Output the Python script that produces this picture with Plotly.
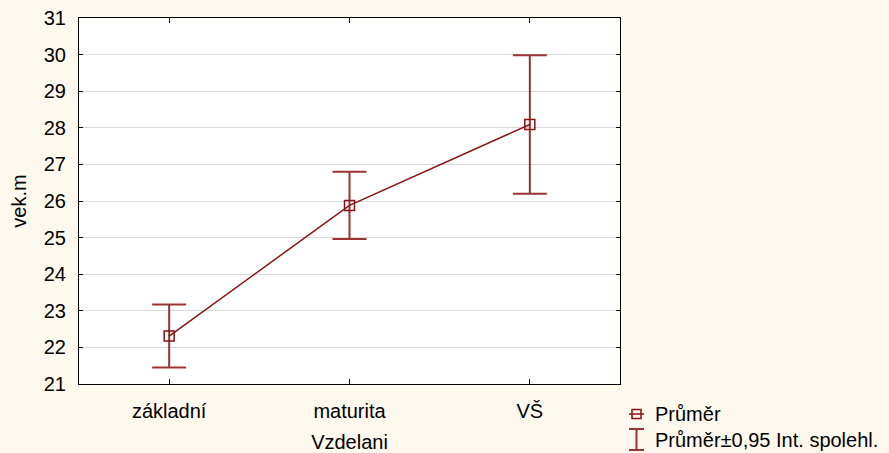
import plotly.graph_objects as go

# Mean age by education level with 0.95 confidence intervals
categories = ["základní", "maturita", "VŠ"]
means = [22.31, 25.88, 28.09]
ci_half = [0.86, 0.92, 1.89]
y_ticks = list(range(21, 32))

LINE_COLOR = "#8B1212"
ERR_COLOR = "#9C3333"
BG = "#FEF9EF"
FONT = "Liberation Sans, Arial, sans-serif"
FSIZE = 20

W, H = 889, 453
L, R, T, B = 79, 269, 18, 69
PW, PH = W - L - R, H - T - B


def px_x(px):
    return (px - L) / PW


def px_y(py):
    return 1 - (py - T) / PH


fig = go.Figure()

fig.add_trace(go.Scatter(
    x=categories, y=means,
    mode="lines+markers",
    line=dict(color=LINE_COLOR, width=1.5),
    marker=dict(symbol="square-open", size=10, color=LINE_COLOR,
                line=dict(width=1.5, color=LINE_COLOR)),
    error_y=dict(type="data", array=ci_half, visible=True,
                 color=ERR_COLOR, thickness=2, width=17),
    showlegend=False,
    name="Průměr",
))

# Legend drawn by hand: mean marker and CI I-beam
shapes = []
lx0, lx1, lxc = 629, 644, 636.5
ly1 = 414
shapes.append(dict(type="line", xref="paper", yref="paper",
                   x0=px_x(lx0), x1=px_x(lx1), y0=px_y(ly1), y1=px_y(ly1),
                   line=dict(color=LINE_COLOR, width=1.5)))
shapes.append(dict(type="rect", xref="paper", yref="paper",
                   x0=px_x(lxc - 4.5), x1=px_x(lxc + 4.5),
                   y0=px_y(ly1 - 4.5), y1=px_y(ly1 + 4.5),
                   line=dict(color=LINE_COLOR, width=1.5)))
ib_top, ib_bot = 429, 450
shapes.append(dict(type="line", xref="paper", yref="paper",
                   x0=px_x(lxc), x1=px_x(lxc), y0=px_y(ib_top), y1=px_y(ib_bot),
                   line=dict(color=ERR_COLOR, width=2)))
for yy in (ib_top, ib_bot):
    shapes.append(dict(type="line", xref="paper", yref="paper",
                       x0=px_x(lx0), x1=px_x(lx1), y0=px_y(yy), y1=px_y(yy),
                       line=dict(color=ERR_COLOR, width=2)))

annotations = [
    dict(text="Průměr", xref="paper", yref="paper", x=px_x(653), y=px_y(414),
         xanchor="left", yanchor="middle", showarrow=False,
         font=dict(family=FONT, size=FSIZE, color="black")),
    dict(text="Průměr±0,95 Int. spolehl.", xref="paper", yref="paper",
         x=px_x(653), y=px_y(440), xanchor="left", yanchor="middle",
         showarrow=False, font=dict(family=FONT, size=FSIZE, color="black")),
]

fig.update_layout(
    width=W, height=H,
    margin=dict(l=L, r=R, t=T, b=B, pad=0),
    paper_bgcolor=BG,
    plot_bgcolor="white",
    font=dict(family=FONT, size=FSIZE, color="black"),
    shapes=shapes,
    annotations=annotations,
    showlegend=False,
)

fig.update_xaxes(
    type="category",
    range=[-0.5, 2.5],
    automargin=False,
    showline=True, linecolor="black", linewidth=1, mirror="ticks",
    ticks="inside", ticklen=5, tickcolor="black",
    showgrid=False, zeroline=False,
    ticklabelstandoff=9,
    title=dict(text="Vzdelani", standoff=13,
               font=dict(family=FONT, size=FSIZE)),
    tickfont=dict(family=FONT, size=FSIZE),
)
fig.update_yaxes(
    range=[21, 31],
    tickvals=y_ticks,
    automargin=False,
    showline=True, linecolor="black", linewidth=1, mirror="ticks",
    ticks="inside", ticklen=4, tickcolor="black",
    showgrid=True, gridcolor="#DADADA", gridwidth=1, zeroline=False,
    ticklabelstandoff=8,
    title=dict(text="vek.m", standoff=11,
               font=dict(family=FONT, size=FSIZE)),
    tickfont=dict(family=FONT, size=FSIZE),
)

fig.write_html("out.html")
